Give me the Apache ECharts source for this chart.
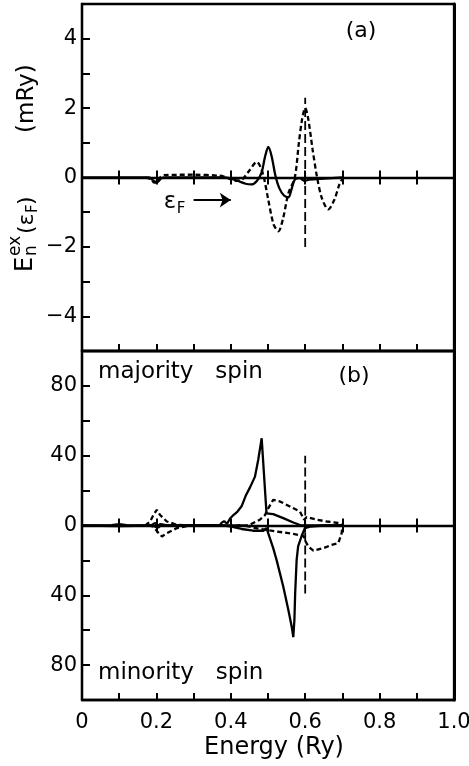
<!DOCTYPE html>
<html>
<head>
<meta charset="utf-8">
<script src="https://cdn.jsdelivr.net/npm/echarts@6/dist/echarts.min.js"></script>
<style>
html, body { margin: 0; padding: 0; background: #fff; }
#chart { width: 469px; height: 766px; }
</style>
</head>
<body>
<div id="chart"></div>
<script>
// panel (a): exchange energy, mRy  [energy, value]
var aSolid = [[0, 0], [0.18, 0], [0.193, -0.1], [0.203, -0.13], [0.213, -0.02], [0.225, 0], [0.38, 0], [0.40, -0.03],
    [0.42, -0.1], [0.44, -0.18], [0.455, -0.2], [0.47, -0.1], [0.483, 0.15], [0.492, 0.6], [0.501, 0.88], [0.51, 0.6],
    [0.52, 0.05], [0.53, -0.3], [0.543, -0.52], [0.555, -0.57], [0.563, -0.35], [0.572, -0.06], [0.585, -0.02],
    [0.599, -0.1], [0.61, -0.06], [0.65, -0.03], [0.7, 0]];
var aDash = [[0.17, 0], [0.185, -0.05], [0.195, -0.15], [0.202, -0.15], [0.21, 0], [0.22, 0.07], [0.3, 0.08], [0.37, 0.05],
    [0.39, 0], [0.41, -0.1], [0.43, -0.06], [0.45, 0.2], [0.47, 0.45], [0.48, 0.3], [0.489, 0], [0.5, -0.6], [0.515, -1.35],
    [0.528, -1.55], [0.54, -1.2], [0.555, -0.45], [0.572, 0], [0.583, 1.0], [0.592, 1.7], [0.6, 2.0], [0.608, 1.7],
    [0.62, 0.8], [0.632, 0], [0.645, -0.6], [0.662, -0.92], [0.678, -0.65], [0.692, -0.2], [0.702, 0]];
var aFermi = [[0.6, -2.0], [0.6, 2.3]];
var efArrow = [[0.3, -0.65], [0.4, -0.65]];

// panel (b): majority (up) / minority (down)
var bMajSolid = [[0, 0], [0.08, 0.2], [0.1, 0.8], [0.12, 0.2], [0.185, 0], [0.197, 1.5], [0.205, -1.2], [0.215, 0.6],
    [0.23, 0], [0.37, 0], [0.375, 1.5], [0.382, 2.5], [0.39, 1], [0.398, 4], [0.407, 6], [0.418, 8], [0.429, 11],
    [0.44, 17], [0.452, 22], [0.465, 28], [0.474, 38], [0.483, 50], [0.489, 30], [0.496, 7], [0.514, 6.5],
    [0.541, 4.2], [0.568, 1.7], [0.59, 0], [0.7, 0]];
var bMinSolid = [[0, 0], [0.1, -0.3], [0.19, 0], [0.2, -1], [0.21, 0.8], [0.22, 0], [0.38, 0], [0.398, -0.5], [0.429, -2],
    [0.46, -3], [0.488, -3], [0.496, -1.5], [0.514, -13], [0.523, -19.7], [0.541, -35], [0.555, -48.7], [0.564, -58.3],
    [0.568, -64], [0.571, -54], [0.573, -39], [0.577, -19.7], [0.581, -12], [0.59, -6.3], [0.599, -1.5], [0.613, -0.6],
    [0.65, 0], [0.7, 0]];
var bMajDash = [[0.17, 0], [0.183, 2.3], [0.192, 6], [0.201, 9], [0.21, 6], [0.228, 2.3], [0.255, 0.4], [0.3, 0],
    [0.447, 0], [0.478, 3.3], [0.492, 6], [0.501, 10], [0.514, 14.7], [0.532, 13.8], [0.559, 10.9], [0.586, 8],
    [0.597, 3.3], [0.604, 4.8], [0.631, 3.3], [0.658, 2.3], [0.694, 1.3], [0.70, 0]];
var bMinDash = [[0.18, 0], [0.192, -0.6], [0.206, -4.4], [0.215, -6.3], [0.228, -4.4], [0.255, -1.5], [0.29, 0],
    [0.434, 0], [0.478, -1.9], [0.523, -3.4], [0.568, -4.8], [0.595, -5.9], [0.599, -8.2], [0.608, -12], [0.622, -14.4],
    [0.649, -13], [0.671, -11.1], [0.689, -10.1], [0.698, -4.4], [0.70, 0]];
var bFermi = [[0.6, -39], [0.6, 40]];

var FONT = 'DejaVu Sans';
var LW = 2.3;
var chart = echarts.init(document.getElementById('chart'));

function xLabel(v) {
    var k = Math.round(v * 10);
    if (k % 2) return '';
    if (k === 0) return '0';
    if (k === 10) return '1.0';
    return (k / 10).toFixed(1);
}

// bottom axis of a panel
function xBottom(grid, labels) {
    return {
        type: 'value', gridIndex: grid, min: 0, max: 1, interval: 0.1, position: 'bottom',
        axisLine: { onZero: false, lineStyle: { color: '#000', width: LW } },
        axisTick: { inside: true, length: 7, lineStyle: { color: '#000', width: 2 } },
        axisLabel: { show: labels, margin: 12, formatter: xLabel, color: '#000', fontFamily: FONT, fontSize: 21 },
        splitLine: { show: false },
        name: labels ? 'Energy (Ry)' : '', nameLocation: 'middle', nameGap: 36,
        nameTextStyle: { color: '#000', fontFamily: FONT, fontSize: 24, padding: [0, 0, 0, 12] }
    };
}
// zero line with ticks crossing it (two axes: ticks up, ticks down)
function xZero(grid, up) {
    return {
        type: 'value', gridIndex: grid, min: 0, max: 1, interval: 0.1, position: 'bottom',
        axisLine: { show: up, onZero: true, onZeroAxisIndex: grid, lineStyle: { color: '#000', width: LW } },
        axisTick: { inside: up, length: 7, lineStyle: { color: '#000', width: 2 } },
        axisLabel: { show: false },
        splitLine: { show: false }
    };
}

function yAxis(grid, min, max, step, fmt) {
    return {
        type: 'value', gridIndex: grid, min: min, max: max, interval: step,
        axisLine: { onZero: false, lineStyle: { color: '#000', width: LW } },
        axisTick: { inside: true, length: 8, lineStyle: { color: '#000', width: 2 } },
        axisLabel: { margin: 5, formatter: fmt, color: '#000', fontFamily: FONT, fontSize: 21 },
        splitLine: { show: false }
    };
}
// heavier right edge of the frame
function yRight(grid, min, max) {
    return {
        type: 'value', gridIndex: grid, min: min, max: max, position: 'right',
        axisLine: { onZero: false, lineStyle: { color: '#000', width: 3 } },
        axisTick: { show: false }, axisLabel: { show: false }, splitLine: { show: false }
    };
}

function line(data, grid, dashed) {
    return {
        type: 'line', xAxisIndex: grid * 3, yAxisIndex: grid, data: data,
        showSymbol: false, smooth: grid === 0 ? 0.3 : false, animation: false,
        lineStyle: { color: '#000', width: LW, type: dashed ? [5, 3] : 'solid' }
    };
}

function fermi(data, grid) {
    return {
        type: 'line', xAxisIndex: grid * 3, yAxisIndex: grid, data: data, showSymbol: false,
        lineStyle: { color: '#000', width: 1.8, type: [9, 4] }
    };
}

function txt(x, y, s, size, rot, align) {
    return {
        type: 'text', x: x, y: y, rotation: rot || 0,
        style: {
            text: s, fill: '#000', font: size + 'px "' + FONT + '"',
            textAlign: align || 'center', align: align || 'center',
            textVerticalAlign: 'middle', verticalAlign: 'middle'
        }
    };
}

var R = Math.PI / 2;

chart.setOption({
    animation: false,
    grid: [
        { left: 82, right: 15, top: 4, height: 347, show: true, borderColor: '#000', borderWidth: LW, outerBoundsMode: 'none' },
        { left: 82, right: 15, top: 351, height: 349, show: true, borderColor: '#000', borderWidth: LW, outerBoundsMode: 'none' }
    ],
    xAxis: [xBottom(0, false), xZero(0, true), xZero(0, false), xBottom(1, true), xZero(1, true), xZero(1, false)],
    yAxis: [
        yAxis(0, -5, 5, 1, function (v) {
            if (Math.abs(v) === 5 || v % 2 !== 0) return '';
            return v < 0 ? '\u2212' + (-v) : '' + v;
        }),
        yAxis(1, -100, 100, 20, function (v) {
            if (Math.abs(v) === 100 || v % 40 !== 0) return '';
            return '' + Math.abs(v);
        }),
        yRight(0, -5, 5),
        yRight(1, -100, 100)
    ],
    series: [
        line(aSolid, 0, false),
        line(aDash, 0, true),
        fermi(aFermi, 0),
        {
            type: 'line', xAxisIndex: 0, yAxisIndex: 0, data: [], silent: true,
            markLine: {
                symbol: ['none', 'arrow'], symbolSize: 11, silent: true, animation: false,
                label: { show: false },
                lineStyle: { color: '#000', width: 2, type: 'solid' },
                data: [[{ coord: efArrow[0] }, { coord: efArrow[1] }]]
            }
        },
        line(bMajSolid, 1, false),
        line(bMinSolid, 1, false),
        line(bMajDash, 1, true),
        line(bMinDash, 1, true),
        fermi(bFermi, 1)
    ],
    graphic: [
        txt(361, 31, '(a)', 22),
        txt(354, 376, '(b)', 22),
        txt(98, 372, 'majority   spin', 23, 0, 'left'),
        txt(98, 673, 'minority   spin', 23, 0, 'left'),
        txt(170, 202, '\u03b5', 23),
        txt(181, 209, 'F', 15),
        // y title: E_n^ex (eps_F)   (mRy), rotated
        txt(26, 272, 'E', 24, R, 'left'),
        txt(16, 256, 'ex', 17, R, 'left'),
        txt(32, 256, 'n', 17, R, 'left'),
        txt(27, 234, '(\u03b5', 22, R, 'left'),
        txt(33, 213, 'F', 15, R, 'left'),
        txt(27, 205, ')', 22, R, 'left'),
        txt(27, 133, '(mRy)', 23, R, 'left')
    ]
});
</script>
</body>
</html>
